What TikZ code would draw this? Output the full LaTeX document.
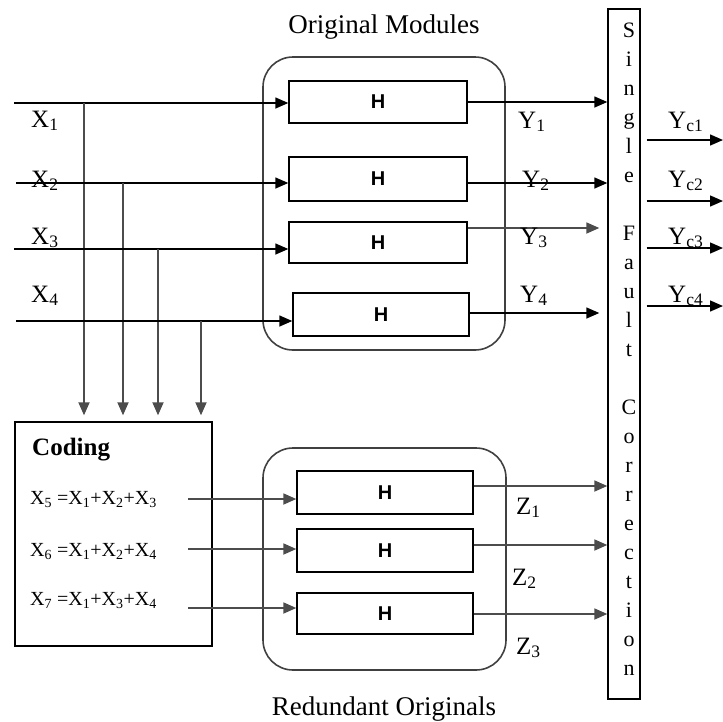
\documentclass[tikz,border=0pt]{standalone}
\usepackage{fontspec}
\setmainfont{Liberation Serif}
\newfontfamily\hfont{Liberation Sans}
\usetikzlibrary{arrows.meta}
\tikzset{
  hbox/.style     ={draw=black,line width=1.4pt,minimum width=178pt,minimum height=42pt,
                    inner sep=0pt,font=\hfont\bfseries\fontsize{20}{24}\selectfont},
  group/.style    ={draw=black!75,line width=1.6pt,rounded corners=30pt},
  block/.style    ={draw=black,line width=1.4pt,inner sep=0pt},
  flow/.style     ={-{Triangle[length=13pt,width=11pt]},line width=1.4pt},
  flowgray/.style ={flow,draw=black!70,line width=1.8pt},
  lbl/.style      ={font=\fontsize{25}{30}\selectfont,anchor=base west,inner sep=0pt},
  ttl/.style      ={font=\fontsize{27}{32}\selectfont,anchor=base,inner sep=0pt},
  eq/.style       ={font=\fontsize{20}{24}\selectfont,anchor=base west,inner sep=0pt},
}
\begin{document}
\begin{tikzpicture}[x=1pt,y=-1pt]
\useasboundingbox (0,0) rectangle (723,721);
% -- titles and module groups
\node[ttl] (ttlorig) at (384,33)  {Original Modules};
\node[ttl] (ttlred)  at (384,715) {Redundant Originals};
\draw[group] (263,57)  rectangle (505,350);
\draw[group] (263,448) rectangle (506,670);

% -- original modules
\node[hbox] (m1) at (378,102) {H};
\node[hbox,minimum height=44pt] (m2) at (378,179) {H};
\node[hbox,minimum height=41pt] (m3) at (378,242.5) {H};
\node[hbox,minimum width=176pt,minimum height=43pt] (m4) at (381,314.5) {H};

% -- redundant modules
\node[hbox,minimum width=176pt,minimum height=43pt] (r1) at (385,492.5) {H};
\node[hbox,minimum width=176pt,minimum height=43pt] (r2) at (385,550.5) {H};
\node[hbox,minimum width=176pt,minimum height=41pt] (r3) at (385,613.5) {H};

% -- coding block
\node[block,minimum width=197pt,minimum height=224pt] (coding) at (113.5,534) {};
\node[lbl,font=\bfseries\fontsize{25}{30}\selectfont] (codtitle) at (32,455) {Coding};
\node[eq] (eq5) at (30,504) {X\textsubscript{5} =X\textsubscript{1}+X\textsubscript{2}+X\textsubscript{3}};
\node[eq] (eq6) at (30,556) {X\textsubscript{6} =X\textsubscript{1}+X\textsubscript{2}+X\textsubscript{4}};
\node[eq] (eq7) at (30,605) {X\textsubscript{7} =X\textsubscript{1}+X\textsubscript{3}+X\textsubscript{4}};

% -- correction block
\node[block,minimum width=32pt,minimum height=690pt] (corr) at (624,354) {};
\node[font=\fontsize{22}{29}\selectfont,align=center,anchor=north,inner sep=0pt] (corrtxt) at (629,23)
  {S\\i\\n\\g\\l\\e\\[29pt]F\\a\\u\\l\\t\\[29pt]C\\o\\r\\r\\e\\c\\t\\i\\o\\n};

% -- inputs
\coordinate (in1) at (14,103);
\coordinate (in2) at (16,183);
\coordinate (in3) at (14,249);
\coordinate (in4) at (16,321);
\coordinate (b1) at (84,103);
\coordinate (b2) at (123,183);
\coordinate (b3) at (158,249);
\coordinate (b4) at (201,321);
\foreach \i in {1,...,4}{
  \draw[flow] (in\i) -- (in\i -| m\i.west);
  \draw[flowgray,shorten >=6pt] (b\i) -- (b\i |- coding.north);
}
\node[lbl] (x1) at (31,127) {X\textsubscript{1}};
\node[lbl] (x2) at (31,187) {X\textsubscript{2}};
\node[lbl] (x3) at (31,244) {X\textsubscript{3}};
\node[lbl] (x4) at (31,302) {X\textsubscript{4}};

% -- coded inputs
\coordinate (c5) at (188,499);
\coordinate (c6) at (188,549);
\coordinate (c7) at (188,608);
\draw[flowgray] (c5) -- (c5 -| r1.west);
\draw[flowgray] (c6) -- (c6 -| r2.west);
\draw[flowgray] (c7) -- (c7 -| r3.west);

% -- module outputs
\draw[flow] (m1.east) -- (m1.east -| corr.west);
\draw[flow] ([yshift=-4pt]m2.east) -- ([yshift=-4pt]m2.east -| corr.west);
\draw[flowgray,shorten >=8pt] ([yshift=14.5pt]m3.east) -- ([yshift=14.5pt]m3.east -| corr.west);
\draw[flow,shorten >=8pt] ([yshift=1.5pt]m4.east) -- ([yshift=1.5pt]m4.east -| corr.west);
\node[lbl] (y1) at (518,128) {Y\textsubscript{1}};
\node[lbl] (y2) at (522,187) {Y\textsubscript{2}};
\node[lbl] (y3) at (520,244) {Y\textsubscript{3}};
\node[lbl] (y4) at (520,302) {Y\textsubscript{4}};

% -- redundant outputs
\draw[flowgray] ([yshift=6.5pt]r1.east) -- ([yshift=6.5pt]r1.east -| corr.west);
\draw[flowgray] ([yshift=5.5pt]r2.east) -- ([yshift=5.5pt]r2.east -| corr.west);
\draw[flowgray] ([yshift=-0.5pt]r3.east) -- ([yshift=-0.5pt]r3.east -| corr.west);
\node[lbl] (z1) at (516,514) {Z\textsubscript{1}};
\node[lbl] (z2) at (512,585) {Z\textsubscript{2}};
\node[lbl] (z3) at (516,654) {Z\textsubscript{3}};

% -- corrected outputs
\coordinate (o1) at (723,140);
\coordinate (o2) at (723,201);
\coordinate (o3) at (723,248);
\coordinate (o4) at (723,306);
\foreach \i in {1,...,4}
  \draw[flow,shorten <=6pt] (o\i -| corr.east) -- (o\i);
\node[lbl] (yc1) at (668,128) {Y\textsubscript{c1}};
\node[lbl] (yc2) at (668,187) {Y\textsubscript{c2}};
\node[lbl] (yc3) at (668,244) {Y\textsubscript{c3}};
\node[lbl] (yc4) at (668,302) {Y\textsubscript{c4}};
\end{tikzpicture}
\end{document}
